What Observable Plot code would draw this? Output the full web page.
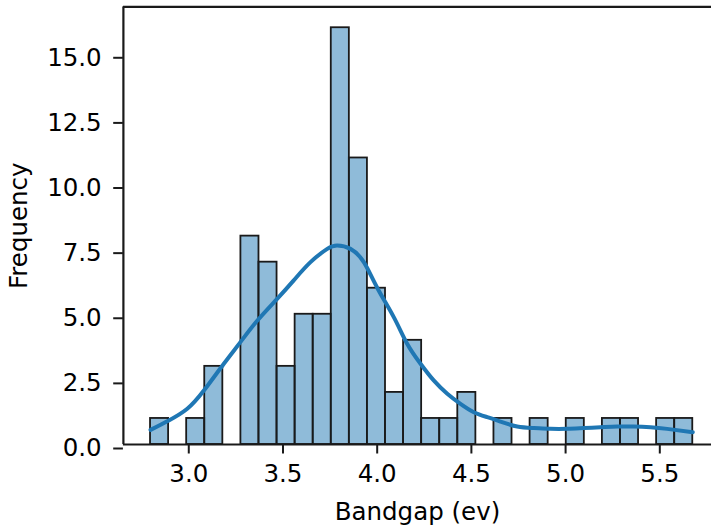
<!DOCTYPE html>
<html>
<head>
<meta charset="utf-8">
<script src="https://cdn.jsdelivr.net/npm/d3@7"></script>
<script src="https://cdn.jsdelivr.net/npm/@observablehq/plot@0.6"></script>
<style>
  html, body { margin: 0; padding: 0; background: #fff; }
  #chart svg { display: block; }
</style>
</head>
<body>
<div id="chart"></div>
<script>
// Histogram: 30 equal bins between the data min and max
const binMin = 2.797;
const binMax = 5.675;
const counts = [1, 0, 1, 3, 0, 8, 7, 3, 5, 5, 16, 11, 6, 2, 4, 1, 1, 2, 0, 1, 0, 1, 0, 1, 0, 1, 1, 0, 1, 1];

// KDE curve (in count units)
const kdeX = [2.797, 2.894, 2.992, 3.080, 3.186, 3.274, 3.363, 3.469, 3.557, 3.646, 3.735, 3.788, 3.858, 3.929, 4.000, 4.088, 4.159, 4.230, 4.300, 4.372, 4.442, 4.513, 4.584, 4.654, 4.743, 4.831, 4.920, 5.008, 5.097, 5.185, 5.274, 5.362, 5.451, 5.539, 5.675];
const kdeY = [0.56, 0.92, 1.37, 2.07, 3.10, 3.93, 4.75, 5.59, 6.30, 7.00, 7.51, 7.64, 7.51, 7.00, 6.02, 4.89, 3.87, 3.10, 2.46, 1.95, 1.56, 1.24, 1.05, 0.88, 0.69, 0.63, 0.60, 0.60, 0.63, 0.66, 0.69, 0.69, 0.66, 0.60, 0.47];

const xTicks = [3.0, 3.5, 4.0, 4.5, 5.0, 5.5];
const yTicks = [0, 2.5, 5.0, 7.5, 10.0, 12.5, 15.0];
const xLabel = "Bandgap (ev)";
const yLabel = "Frequency";

const binW = (binMax - binMin) / counts.length;
const bins = counts.map((c, i) => ({x1: binMin + i * binW, x2: binMin + (i + 1) * binW, c}))
  .filter(d => d.c > 0);
const kde = kdeX.map((x, i) => ({x, y: kdeY[i]}));

const xDom = [2.653, 5.7744];
const yDom = [0, 16.8];
const FS = 24.5;
const INK = "#1a1a1a";

const chart = Plot.plot({
  width: 711,
  height: 527,
  marginLeft: 122.9,
  marginRight: 0,
  marginTop: 6.4,
  marginBottom: 83,
  style: {fontFamily: "DejaVu Sans", fontSize: FS + "px", color: "#000", background: "#fff"},
  x: {domain: xDom, label: null},
  y: {domain: yDom, label: null},
  marks: [
    Plot.rectY(bins, {x1: "x1", x2: "x2", y1: 0, y2: "c", fill: "#1f77b4", fillOpacity: 0.5, stroke: INK, strokeWidth: 1.8, inset: 0}),
    Plot.line(kde, {x: "x", y: "y", stroke: "#1f77b4", strokeWidth: 4, curve: "natural"}),
    Plot.axisX({ticks: xTicks, tickFormat: d3.format(".1f"), tickSize: 9.5, tickPadding: 11, fontSize: FS, stroke: INK, strokeWidth: 2, label: null}),
    Plot.axisY({ticks: yTicks, tickFormat: d3.format(".1f"), tickSize: 9.7, tickPadding: 12, fontSize: FS, dy: 4, stroke: INK, strokeWidth: 2, label: null}),
    Plot.ruleX([xDom[0]], {stroke: INK, strokeWidth: 2.2}),
    Plot.ruleY([yDom[0], yDom[1]], {stroke: INK, strokeWidth: 2.2}),
    Plot.text([xLabel], {frameAnchor: "bottom", text: d => d, dy: 67.5, fontSize: FS, textAnchor: "middle", lineAnchor: "middle", fill: "#000"}),
    Plot.text([yLabel], {frameAnchor: "left", text: d => d, dx: -104.4, rotate: -90, fontSize: FS, textAnchor: "middle", lineAnchor: "middle", fill: "#000"})
  ]
});
document.getElementById("chart").appendChild(chart);
</script>
</body>
</html>
